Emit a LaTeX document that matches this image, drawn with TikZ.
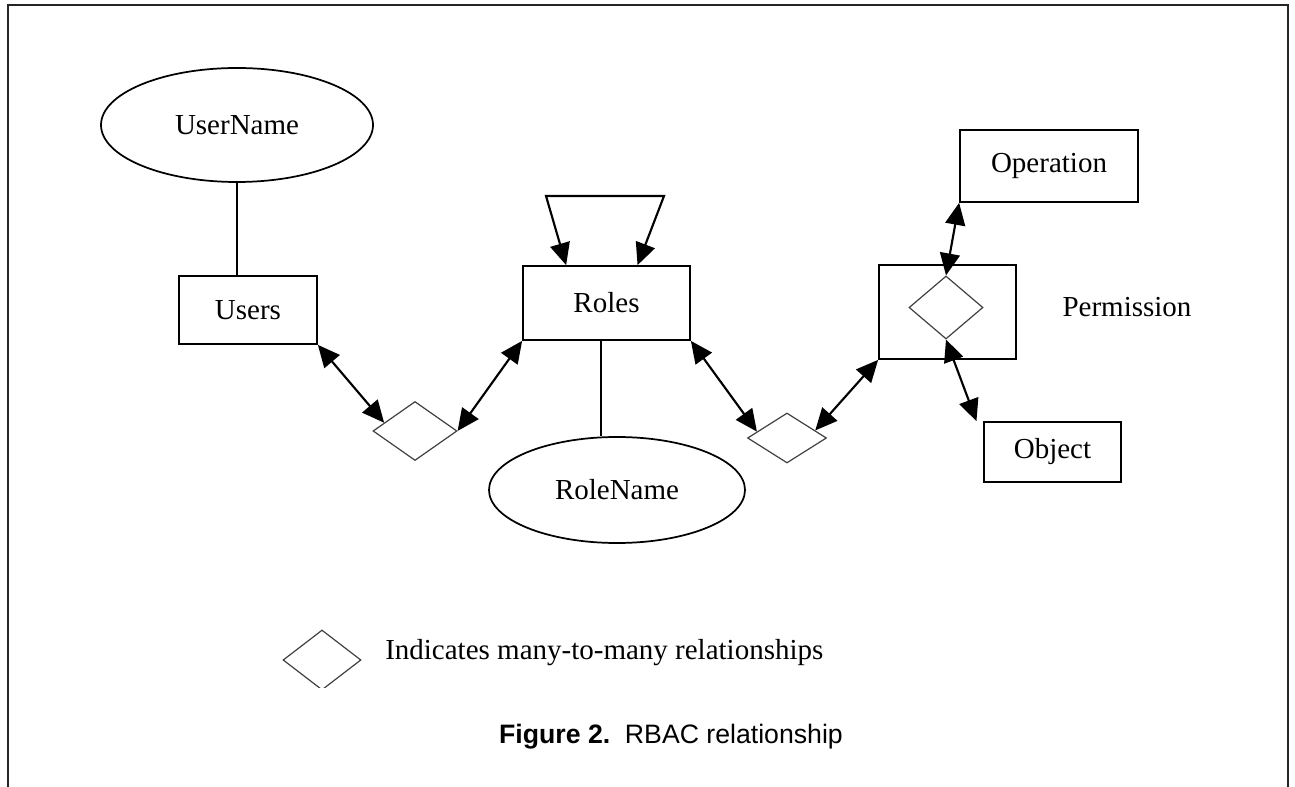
\documentclass[tikz,border=0pt]{standalone}
\usepackage{fontspec}
\setmainfont{Liberation Serif}
\newfontfamily\capfont{Liberation Sans}
\usetikzlibrary{shapes.geometric,arrows.meta,calc}
\begin{document}
\begin{tikzpicture}[x=0.75pt,y=-0.75pt,
  lbl/.style={font=\fontsize{21.75}{26}\selectfont},
  entbox/.style={draw,line width=1.3pt,rectangle,inner sep=0pt,lbl},
  attr/.style={draw,line width=1.3pt,ellipse,inner sep=0pt,lbl},
  rel/.style={draw=black!75,line width=0.9pt,diamond,inner sep=0pt},
  link/.style={line width=1.6pt,arrows={Triangle[length=16.5pt,width=15pt]-Triangle[length=16.5pt,width=15pt]}},
  plain/.style={line width=1.3pt}]
\useasboundingbox (0,0) rectangle (1295,787);
\draw[line width=1.3pt,black!85] (8,787) -- (8,5) -- (1288,5) -- (1288,787);

\node[attr,minimum width=204pt,minimum height=85.5pt] (un) at (237,125) {UserName};
\node[entbox,minimum width=103.5pt,minimum height=51pt] (users) at (248,310) {Users};
\node[entbox,minimum width=125.25pt,minimum height=55.5pt] (roles) at (606.5,303) {Roles};
\node[attr,minimum width=192pt,minimum height=79.5pt] (rn) at (617,490) {RoleName};
\node[rel,minimum width=63pt,minimum height=44.25pt] (d1) at (415,431) {};
\node[rel,minimum width=59.25pt,minimum height=37.5pt] (d2) at (787,438) {};
\node[entbox,minimum width=102.75pt,minimum height=70.5pt] (perm) at (947.5,312) {};
\node[rel,minimum width=55.5pt,minimum height=47.25pt] (pd) at (946,307.5) {};
\node[lbl] (permlbl) at (1127,307) {Permission};
\node[entbox,minimum width=133.5pt,minimum height=54pt] (op) at (1049,166) {Operation};
\node[entbox,minimum width=102.75pt,minimum height=45pt] (obj) at (1052.5,452) {Object};

\draw[plain] (un.south) -- (un.south |- users.north);
\draw[plain] ([xshift=-4pt]roles.south) -- ([xshift=-4pt]roles.south |- rn.north);

\draw[link] (users.south east) -- (d1.165);
\draw[link] (d1.east) -- (roles.south west);
\draw[link] ([xshift=33pt]roles.north west) -- (546,196) -- (664,196) -- ([xshift=-40pt]roles.north east);
\draw[link] (roles.south east) -- (d2.168);
\draw[link] (d2.15) -- (perm.south west);
\draw[link] (op.south west) -- (pd.north);
\draw[link] (pd.south) -- ([xshift=-5pt]obj.north west);

\begin{scope}
\clip (270,600) rectangle (380,687);
\node[rel,minimum width=58.5pt,minimum height=45pt] (legd) at (322,660) {};
\end{scope}
\node[lbl,anchor=base west,inner sep=0pt] (legtxt) at (385,659) {Indicates many-to-many relationships};

\node[font=\capfont\fontsize{20}{24}\selectfont] (cap) at (671,737) {\textbf{Figure 2.}\hspace{0.55em}RBAC relationship};
\end{tikzpicture}
\end{document}
